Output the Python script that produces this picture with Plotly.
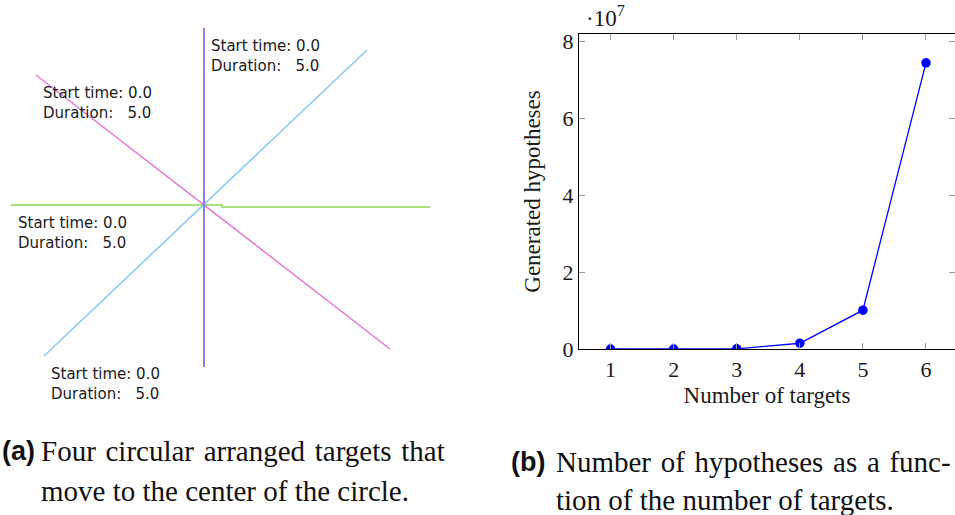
import plotly.graph_objects as go

# ---- Panel (b): generated hypotheses vs. number of targets ----
num_targets = [1, 2, 3, 4, 5, 6]
hypotheses = [1, 24, 4.0e4, 1.5e6, 1.01e7, 7.45e7]
y_ticks = [0, 2, 4, 6, 8]

# ---- Panel (a): straight-line target trajectories through the circle centre ----
# each target: (start x, start y) -> (end x, end y), centre at (0, 0)
traj_purple_x = [0, 0]
traj_purple_y = [177, -162]
traj_cyan_x = [-160, 163]
traj_cyan_y = [-151, 155]
traj_pink_x = [-168, 186]
traj_pink_y = [130, -144]
traj_green_x = [-193, 18, 18, 226]
traj_green_y = [0, 0, -2, -2]

start_times = [0.0, 0.0, 0.0, 0.0]
durations = [5.0, 5.0, 5.0, 5.0]
# label anchor = start point of each target
label_x = [traj_purple_x[0], traj_pink_x[0], traj_green_x[0], traj_cyan_x[0]]
label_y = [traj_purple_y[0], traj_pink_y[0], traj_green_y[0], traj_cyan_y[0]]

W, H = 955, 515
SERIF = "Liberation Serif, Times New Roman, serif"
SANS = "DejaVu Sans, Verdana, sans-serif"

fig = go.Figure()

# trajectories
for xs, ys, col, w in [
    (traj_green_x, traj_green_y, "#a8e27a", 2),
    (traj_pink_x, traj_pink_y, "#e67ad2", 1.5),
    (traj_cyan_x, traj_cyan_y, "#86c9ee", 1.5),
    (traj_purple_x, traj_purple_y, "#8a80e8", 2),
]:
    fig.add_trace(go.Scatter(
        x=xs, y=ys, mode="lines", xaxis="x2", yaxis="y2",
        line=dict(color=col, width=w), hoverinfo="skip", showlegend=False,
    ))

# target labels
for lx, ly, st, du in zip(label_x, label_y, start_times, durations):
    fig.add_annotation(
        x=lx, y=ly, xref="x2", yref="y2", xanchor="left", yanchor="top",
        xshift=5, yshift=-7, showarrow=False, align="left",
        text=f"Start time: {st:.1f}<br>Duration:\u00a0\u00a0\u00a0{du:.1f}",
        font=dict(family=SANS, size=15, color="#1a1a1a"),
    )

# hypotheses curve
fig.add_trace(go.Scatter(
    x=num_targets, y=[v / 1e7 for v in hypotheses], mode="lines+markers",
    xaxis="x", yaxis="y",
    line=dict(color="#0000ff", width=1.3),
    marker=dict(color="#0000ff", size=9.5),
    hoverinfo="skip", showlegend=False,
))
# invisible trace on the right-hand axis so its ticks render
fig.add_trace(go.Scatter(
    x=[num_targets[0]], y=[0], xaxis="x", yaxis="y3", mode="markers",
    marker=dict(opacity=0), hoverinfo="skip", showlegend=False,
))

x0, x1 = 579 / W, 1.0
y0, y1 = 1 - 349 / H, 1 - 34 / H

tickfont = dict(family=SERIF, size=22, color="#1a1a1a")
titlefont = dict(family=SERIF, size=23, color="#1a1a1a")

fig.update_layout(
    width=W, height=H,
    margin=dict(l=0, r=0, t=0, b=0, pad=0, autoexpand=False),
    paper_bgcolor="white", plot_bgcolor="rgba(0,0,0,0)",
    xaxis=dict(
        domain=[x0, x1], range=[0.5, 6.46], anchor="y", automargin=False,
        tickvals=num_targets, ticks="inside", ticklen=6, tickwidth=1,
        tickcolor="#9a9a9a", showline=True, linecolor="black", linewidth=1.3,
        mirror="ticks", showgrid=False, zeroline=False, tickfont=tickfont,
        title=dict(text="Number of targets", font=titlefont, standoff=6),
    ),
    yaxis=dict(
        domain=[y0, y1], range=[0, 8.2], anchor="x", automargin=False,
        tickvals=y_ticks, ticks="inside", ticklen=6, tickwidth=1,
        tickcolor="#9a9a9a", showline=True, linecolor="black", linewidth=1.3,
        showgrid=False, zeroline=False, tickfont=tickfont,
        title=dict(text="Generated hypotheses", font=titlefont, standoff=15),
    ),
    yaxis3=dict(
        overlaying="y", side="right", anchor="x", range=[0, 8.2], automargin=False,
        tickvals=y_ticks, ticks="inside", ticklen=6, tickwidth=1,
        tickcolor="#9a9a9a", showticklabels=False, showline=False,
        showgrid=False, zeroline=False,
    ),
    xaxis2=dict(domain=[0, 1], range=[-204, W - 204], anchor="y2",
                visible=False, fixedrange=True, automargin=False),
    yaxis2=dict(domain=[0, 1], range=[205 - H, 205], anchor="x2",
                visible=False, fixedrange=True, automargin=False),
)

# axis multiplier
fig.add_annotation(
    x=x0, y=y1, xref="paper", yref="paper", xanchor="center", yanchor="bottom",
    xshift=26, yshift=1, showarrow=False,
    text="·10<sup>7</sup>", font=dict(family=SERIF, size=23, color="#1a1a1a"),
)

# captions
cap_font = dict(family=SERIF, size=29, color="#111111")
lab_font = dict(family="Liberation Sans, Arial, sans-serif", size=27, color="#111111")
HS = "\u200a"  # hair space to widen justified lines


def text_at(xp, yp, txt, font):
    fig.add_annotation(x=xp / W, y=1 - yp / H, xref="paper", yref="paper",
                       xanchor="left", yanchor="middle", showarrow=False,
                       text=txt, font=font)


def justified(s):
    return s.replace(" ", " " + HS)


text_at(0, 451, "<b>(a)</b>", lab_font)
text_at(39, 451, justified("Four circular arranged targets that"), cap_font)
text_at(39, 491, "move to the center of the circle.", cap_font)
text_at(509, 462, "<b>(b)</b>", lab_font)
text_at(554, 462, justified("Number of hypotheses as a func-"), cap_font)
text_at(554, 500, "tion of the number of targets.", cap_font)

fig.write_html("out.html")
